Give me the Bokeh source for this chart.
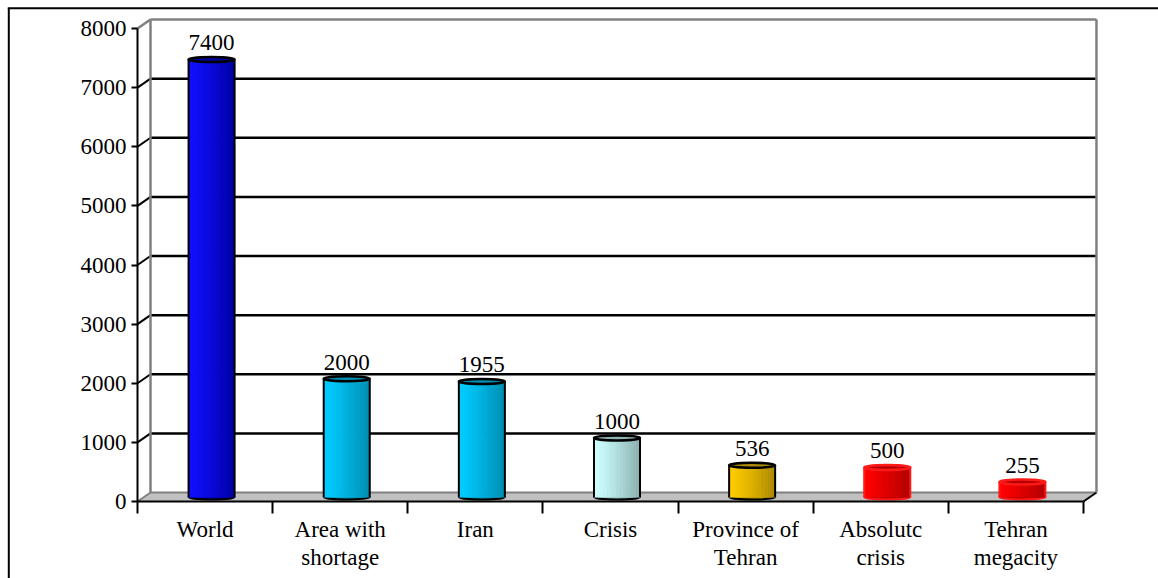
from bokeh.plotting import figure
from bokeh.models import Range1d, LinearAxis, FixedTicker
from bokeh.core.properties import value
from bokeh.embed import file_html
from bokeh.resources import INLINE

# ---- data ----
categories = ["World", "Area with\nshortage", "Iran", "Crisis",
              "Province of\nTehran", "Absolutc\ncrisis", "Tehran\nmegacity"]
values = [7400, 2000, 1955, 1000, 536, 500, 255]
y_ticks = [0, 1000, 2000, 3000, 4000, 5000, 6000, 7000, 8000]

# ---- styles ----
bar_light = ["#1010ff", "#00ccff", "#00ccff", "#ccffff", "#ffcc00", "#ff0000", "#ff0000"]
bar_dark = ["#0000a8", "#0090b4", "#0090b4", "#8fb3b3", "#b08c00", "#b40000", "#b40000"]
bar_edge = ["black", "black", "black", "black", "black", "#ff1a1a", "#ff1a1a"]
FONT = value("Liberation Serif")
FS = "23px"

W, H = 1158, 578
PX0, UX = 137.0, 135.14      # pixel of x=0, pixels per category
PY0, UY = 501.0, 0.059125    # pixel of y=0, pixels per unit


def dx(px):
    return (px - PX0) / UX


def dy(py):
    return (PY0 - py) / UY


DX = 13 / UX   # depth offset
DY = 9 / UY
n = len(categories)
YMAX = y_ticks[-1]

p = figure(width=W, height=H, output_backend="svg", toolbar_location=None,
           x_range=Range1d(dx(0), dx(W)), y_range=Range1d(dy(H), dy(0)),
           x_axis_type=None, y_axis_type=None,
           min_border_left=0, min_border_right=0, min_border_top=0, min_border_bottom=0)
p.outline_line_color = None
p.background_fill_color = "white"
p.border_fill_color = "white"

# outer border (top and left)
p.segment(x0=[dx(8.3), dx(7.3)], y0=[dy(7.8), dy(7.8)],
          x1=[dx(8.3), dx(W + 5)], y1=[dy(H + 5), dy(7.8)],
          line_color="black", line_width=2)

# floor
p.patch([0, n, n + DX, DX], [0, 0, DY, DY], fill_color="#c0c0c0", line_color=None)
p.segment(x0=[DX], y0=[DY], x1=[n + DX], y1=[DY], line_color="#808080", line_width=2)
p.segment(x0=[n], y0=[0], x1=[n + DX], y1=[DY], line_color="black", line_width=2)
p.segment(x0=[0], y0=[0], x1=[DX], y1=[DY], line_color="#808080", line_width=2)

# back wall gridlines
grid_vals = y_ticks[1:-1]
p.segment(x0=[DX] * len(grid_vals), y0=[v + DY for v in grid_vals],
          x1=[n + DX] * len(grid_vals), y1=[v + DY for v in grid_vals],
          line_color="black", line_width=2.5)
# side-wall diagonals
p.segment(x0=[0] * len(grid_vals), y0=grid_vals,
          x1=[DX] * len(grid_vals), y1=[v + DY for v in grid_vals],
          line_color="black", line_width=2)
# back wall border (gray)
p.segment(x0=[0, DX, DX, n + DX], y0=[YMAX, YMAX + DY, DY, DY],
          x1=[DX, n + DX, DX, n + DX], y1=[YMAX + DY, YMAX + DY, YMAX + DY, YMAX + DY],
          line_color="#808080", line_width=2.5)


def mix(c1, c2, t):
    a = [int(c1[i:i + 2], 16) for i in (1, 3, 5)]
    b = [int(c2[i:i + 2], 16) for i in (1, 3, 5)]
    return "#" + "".join("%02x" % round(a[k] + (b[k] - a[k]) * t) for k in range(3))


# bars (cylinders)
bw = 46 / UX
eh = 5 / UY
NS = 14
for i, v in enumerate(values):
    cx = i + 0.5 + DX / 2
    b0 = DY / 2
    t0 = v + DY / 2
    p.ellipse(x=[cx], y=[b0], width=[bw], height=[eh], fill_color=bar_dark[i],
              line_color=bar_edge[i], line_width=2)
    lefts = [cx - bw / 2 + k * bw / NS for k in range(NS)]
    rights = [l + bw / NS for l in lefts]
    cols = [mix(bar_light[i], bar_dark[i], (k / (NS - 1)) ** 1.2) for k in range(NS)]
    p.quad(left=lefts, right=rights, bottom=[b0] * NS, top=[t0] * NS,
           fill_color=cols, line_color=cols, line_width=1)
    p.segment(x0=[cx - bw / 2, cx + bw / 2], y0=[b0, b0], x1=[cx - bw / 2, cx + bw / 2],
              y1=[t0, t0], line_color=bar_edge[i], line_width=2)
    p.ellipse(x=[cx], y=[t0], width=[bw], height=[eh], fill_color=bar_dark[i],
              line_color=bar_edge[i], line_width=2.5)

# value labels
p.text(x=[i + 0.5 + DX / 2 for i in range(n)], y=[v + DY / 2 for v in values],
       text=[str(v) for v in values], text_font=FONT, text_font_size=FS,
       text_align="center", text_baseline="bottom", y_offset=-9, text_color="black")

# axes
yaxis = LinearAxis(fixed_location=0, ticker=FixedTicker(ticks=y_ticks), bounds=(0, YMAX))
yaxis.axis_line_width = 2
yaxis.major_tick_line_width = 2
yaxis.major_tick_out = 6
yaxis.major_tick_in = 0
yaxis.minor_tick_line_color = None
yaxis.major_label_standoff = 5
yaxis.major_label_text_font = "Liberation Serif"
yaxis.major_label_text_font_size = FS
yaxis.major_label_text_color = "black"
p.add_layout(yaxis, "left")

centers = [i + 0.5 for i in range(n)]
xaxis = LinearAxis(fixed_location=0,
                   ticker=FixedTicker(ticks=centers, minor_ticks=list(range(n + 1))),
                   bounds=(0, n))
xaxis.axis_line_width = 2
xaxis.major_tick_out = 0
xaxis.major_tick_in = 0
xaxis.minor_tick_out = 12
xaxis.minor_tick_in = 0
xaxis.minor_tick_line_width = 2
xaxis.minor_tick_line_color = "black"
xaxis.major_label_overrides = {c: lab for c, lab in zip(centers, categories)}
xaxis.major_label_standoff = 3
xaxis.major_label_text_font = "Liberation Serif"
xaxis.major_label_text_font_size = FS
xaxis.major_label_text_line_height = 1.15
xaxis.major_label_text_color = "black"
p.add_layout(xaxis, "below")

open("out.html", "w").write(file_html(p, INLINE))
